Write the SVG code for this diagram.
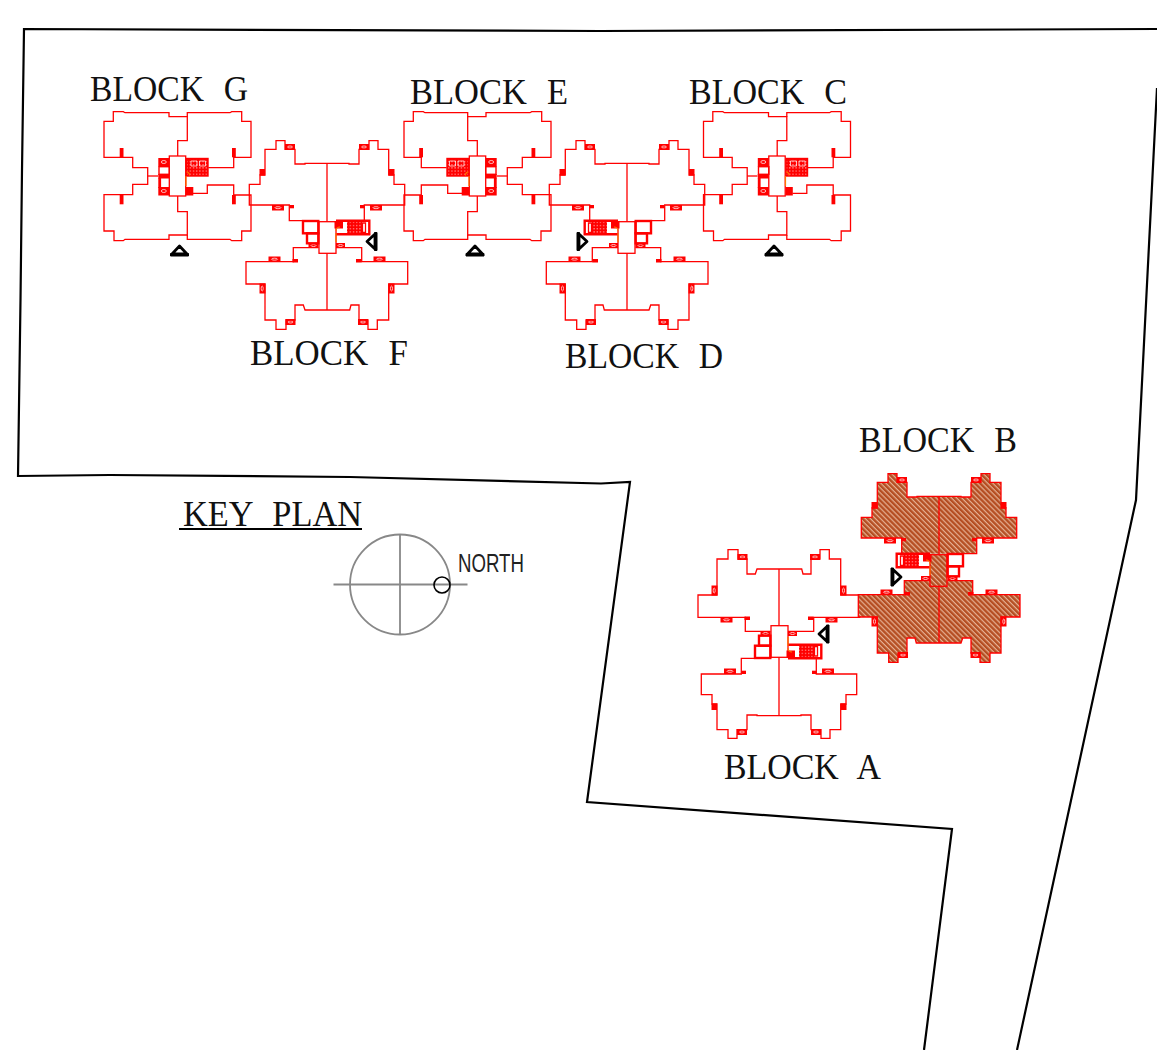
<svg xmlns="http://www.w3.org/2000/svg" width="1157" height="1050" viewBox="0 0 1157 1050">
<style>
.o{fill:none;stroke:#f00;stroke-width:1.3;stroke-linejoin:miter}
.th{fill:none;stroke:#f00;stroke-width:2.4}
.rf{fill:#f00}
.wl{fill:none;stroke:#fff;stroke-width:.7}
.gr{fill:url(#grid);stroke:#f00;stroke-width:1.4}
.or{fill:none;stroke:#f70;stroke-width:1.2}
.lb{font-family:"Liberation Serif",serif;font-size:36px;fill:#111;word-spacing:12px}
.bd{fill:none;stroke:#000;stroke-width:2.2;stroke-linejoin:miter}
.hf{fill:url(#hatch);stroke:none}
.mk{fill:#fff;stroke:#000;stroke-width:2.8;stroke-linejoin:round}
.kp{fill:none;stroke:#888;stroke-width:1.8}
</style>
<defs>
<pattern id="hatch" width="3.6" height="3.6" patternUnits="userSpaceOnUse" patternTransform="rotate(45)">
<rect width="3.6" height="3.6" fill="#b54e22"/><rect width="1.2" height="3.6" fill="#e6b094"/>
</pattern>
<pattern id="grid" width="3.2" height="3.2" patternUnits="userSpaceOnUse">
<rect width="3.2" height="3.2" fill="#f00"/><rect x="1" y="1" width="1" height="1" fill="#fdd"/>
</pattern>
<g id="ty2">
<rect class="rf" x="285" y="144" width="10" height="6"/><rect class="rf" x="359" y="144" width="10" height="6"/>
<rect class="rf" x="259.5" y="169" width="5.5" height="6.5"/><rect class="rf" x="389" y="169" width="5.5" height="6.5"/>
<rect class="rf" x="272" y="205" width="12" height="5.5"/><rect class="rf" x="370" y="205" width="12" height="5.5"/>
<rect class="rf" x="289.5" y="205" width="4.5" height="3.3"/><rect class="rf" x="360" y="205" width="4.5" height="3.3"/>
<rect class="rf" x="268.5" y="256.5" width="12" height="5.5"/><rect class="rf" x="373.5" y="256.5" width="12" height="5.5"/>
<rect class="rf" x="292.5" y="259" width="5.5" height="3.5"/><rect class="rf" x="356" y="259" width="5.5" height="3.5"/>
<rect class="rf" x="259.5" y="283.5" width="6" height="10"/><rect class="rf" x="388.5" y="283.5" width="6" height="10"/>
<rect class="rf" x="285.5" y="319" width="10" height="6"/><rect class="rf" x="358" y="319" width="10" height="6"/>
<rect class="rf" x="308.5" y="243" width="10" height="5"/><rect class="rf" x="336" y="243" width="9" height="5"/>
<rect class="rf" x="334.5" y="221" width="8.5" height="7.5"/>
<g class="wl"><ellipse cx="290" cy="147" rx="2.5" ry="1"/><ellipse cx="364" cy="147" rx="2.5" ry="1"/><ellipse cx="278" cy="207.7" rx="3" ry="1"/><ellipse cx="376" cy="207.7" rx="3" ry="1"/><ellipse cx="274.5" cy="259.2" rx="3" ry="1"/><ellipse cx="379.5" cy="259.2" rx="3" ry="1"/><ellipse cx="290.5" cy="322" rx="2.5" ry="1"/><ellipse cx="363" cy="322" rx="2.5" ry="1"/><ellipse cx="313.5" cy="245.5" rx="2.5" ry="1"/><ellipse cx="340.5" cy="245.5" rx="2.5" ry="1"/><ellipse cx="262.2" cy="288.5" rx="1" ry="2.500"/><ellipse cx="391.5" cy="288.5" rx="1" ry="2.500"/></g>
<path class="o" d="M302.7 220.7H289.3V205H249.3V184.3H260V175H265V149.3H276V140.7H285V149.3H295V164H305V163.3H349V164H359V149.3H369V140.7H378V149.3H388.7V175H394V184.3H404.7V205H364.3V220.7"/>
<path class="o" d="M318.3 247.7H293.3V261.7H246V284H265V320H276V329.3H286V320H295V305H303.3L305 310H349.7L351 305H359V320H368V329.3H377.3V320H388.7V284H407.7V261.7H361.7V247.7H336"/>
<path class="o" d="M327 163.3V221.7M327 253.3V310"/>
<rect class="o" x="319" y="221.7" width="17" height="31.6"/>
<rect class="th" x="303" y="221" width="15.3" height="12.3"/><rect class="th" x="307" y="233.3" width="11.3" height="10"/>
<path class="th" d="M336 220.7H369.3V234.3H336"/>
<rect x="347" y="222" width="15" height="11" style="fill:url(#grid)"/>
<path class="o" d="M362.5 223V232.5H365.5V223Z"/>
<path class="or" d="M336 231a4 4 0 0 1 4-4M336 233V242"/>
</g>
<g id="ty1">
<path class="o" d="M147.7 176V167.7H132.7V157.3H104V121.3H113.3V111.7H123.3L125 112.7H169V116.7H187.3V140.7H177.7V156"/>
<path class="o" d="M187.3 116.7V112.7H230L231.7 111.7H241.7V121.3H251V157.3H233.7V167.7H208.3"/>
<path class="o" d="M147.7 176V184.3H132.7V194.7H104V231H114V240.7H123.3L125 239.3H169V235H187.3V211.7H177.7V196"/>
<path class="o" d="M187.3 235V239.3H230L231.7 240.7H241.7V231H251V195H233.7V185H207.3V193.3H193"/>
<path class="o" d="M147.7 176H158"/>
<rect class="o" x="169.3" y="156" width="16.4" height="40"/>
<rect class="rf" x="119.7" y="148" width="3.8" height="9.3"/><rect class="rf" x="232" y="148" width="3.8" height="9.3"/>
<rect class="rf" x="119.7" y="195" width="3.8" height="9.3"/><rect class="rf" x="232" y="195" width="3.8" height="9.3"/>
<rect class="rf" x="158.3" y="158" width="11" height="8.5"/><rect class="rf" x="158.3" y="187" width="11" height="8.5"/>
<rect class="rf" x="158.3" y="174" width="11" height="4.5"/><rect class="rf" x="158.3" y="178" width="2.8" height="10"/>
<rect class="th" x="159" y="166.7" width="10.3" height="7.6" style="stroke-width:1.4"/>
<rect class="rf" x="186" y="187" width="7.3" height="8.5"/>
<rect class="gr" x="186.5" y="158.5" width="21.5" height="17.5"/>
<path d="M191 161h6v5h-6zM199.500 161h6v5h-6z" fill="none" stroke="#fff" stroke-width=".7"/>
<ellipse class="wl" cx="163.800" cy="162" rx="2.500" ry="1.500"/><ellipse class="wl" cx="163.800" cy="191" rx="2.500" ry="1.500"/>
<path class="or" d="M186 176V186M186.500 172a3 3 0 0 1 3 3.500"/>
</g>
<g id="mark">
<path class="mk" d="M0 -4L7.500 4H-7.500Z"/>
<path d="M-9 3.500H9V6H-9Z" fill="#000" stroke="#000" stroke-width="1"/>
</g>
</defs>
<rect width="1157" height="1050" fill="#fff"/>
<g id="boundary">
<path class="bd" d="M1157 88L1136 500L1017 1050"/>
<path class="bd" d="M924 1050L952 829L587 802L630 482L601 483.500L350 477L110 475L18 476L20.500 300L22 170L24 29L600 31L1157 29"/>
</g>
<g id="block-g"><use href="#ty1"/><text class="lb" x="90" y="101" textLength="158" lengthAdjust="spacingAndGlyphs">BLOCK G</text><use href="#mark" transform="translate(179.500,250)"/></g>
<g id="block-e"><use href="#ty1" transform="translate(955,0) scale(-1,1) translate(300,0)"/><text class="lb" x="410" y="104" textLength="158" lengthAdjust="spacingAndGlyphs">BLOCK E</text><use href="#mark" transform="translate(475,250)"/></g>
<g id="block-c"><use href="#ty1" transform="translate(599.500,0)"/><text class="lb" x="689" y="104" textLength="158" lengthAdjust="spacingAndGlyphs">BLOCK C</text><use href="#mark" transform="translate(774,250)"/></g>
<g id="block-f"><use href="#ty2"/><text class="lb" x="250" y="365" textLength="158" lengthAdjust="spacingAndGlyphs">BLOCK F</text><use href="#mark" transform="translate(371,241.500) rotate(-90)"/></g>
<g id="block-d"><use href="#ty2" transform="translate(954,0) scale(-1,1)"/><text class="lb" x="565" y="368" textLength="158" lengthAdjust="spacingAndGlyphs">BLOCK D</text><use href="#mark" transform="translate(583,241.500) rotate(90)"/></g>
<g id="block-a"><use href="#ty2" transform="translate(452,879) scale(1,-1)"/><text class="lb" x="724" y="779" textLength="157" lengthAdjust="spacingAndGlyphs">BLOCK A</text><use href="#mark" transform="translate(823,634) rotate(-90)"/></g>
<g id="block-b">
<g transform="translate(1266,333) scale(-1,1)">
<path class="hf" d="M289.300 220.700V205H249.300V184.300H260V175H265V149.300H276V140.700H285V149.300H295V164H305V163.300H349V164H359V149.300H369V140.700H378V149.300H388.700V175H394V184.300H404.700V205H364.300V220.700Z"/>
<path class="hf" d="M293.300 247.700V261.700H246V284H265V320H276V329.300H286V320H295V305H303.300L305 310H349.700L351 305H359V320H368V329.300H377.300V320H388.700V284H407.700V261.700H361.700V247.700Z"/>
<rect class="hf" x="319" y="221.700" width="17" height="31.600"/>
<use href="#ty2"/>
</g>
<text class="lb" x="859" y="452" textLength="158" lengthAdjust="spacingAndGlyphs">BLOCK B</text>
<use href="#mark" transform="translate(897,577) rotate(90)"/>
</g>
<g id="key-plan">
<text class="lb" x="183" y="525.500" textLength="179" lengthAdjust="spacingAndGlyphs">KEY PLAN</text>
<path d="M179 529H362" stroke="#000" stroke-width="2" fill="none"/>
<circle class="kp" cx="400" cy="584.500" r="50"/>
<path class="kp" d="M333.500 584.500H467.500M400 534.500V635"/>
<circle cx="442" cy="585" r="8" fill="none" stroke="#000" stroke-width="1.600"/>
<text x="458" y="572" font-family="'Liberation Sans',sans-serif" font-size="25" fill="#222" textLength="66" lengthAdjust="spacingAndGlyphs">NORTH</text>
</g>
</svg>
